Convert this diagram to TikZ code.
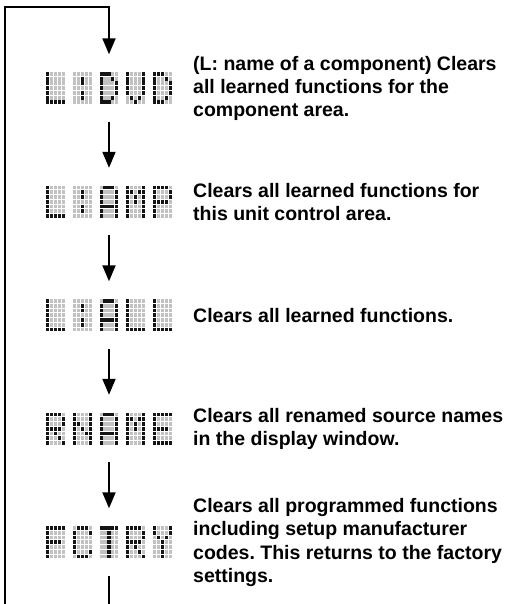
\documentclass[tikz,border=0pt]{standalone}
\usepackage{fontspec}
\setmainfont{Liberation Sans}
\usetikzlibrary{arrows.meta}
\definecolor{dmon}{HTML}{141414}
\definecolor{dmoff}{HTML}{C2C2C2}
\newcommand{\dmchar}[3]{%
  \foreach \v [count=\k from 0] in #3 {%
    \pgfmathtruncatemacro{\cc}{mod(\k,5)}%
    \pgfmathtruncatemacro{\rr}{div(\k,5)}%
    \ifnum\v=1 \def\dmcol{dmon}\else\def\dmcol{dmoff}\fi
    \fill[\dmcol] ({#1+3.95*\cc},{#2+4.75*\rr}) rectangle ++(3.1,3.9);
  }%
}
\def\chL{1,0,0,0,0, 1,0,0,0,0, 1,0,0,0,0, 1,0,0,0,0, 1,0,0,0,0, 1,0,0,0,0, 1,1,1,1,1}
\def\chCol{0,0,0,0,0, 0,0,1,0,0, 0,0,1,0,0, 0,0,0,0,0, 0,0,1,0,0, 0,0,1,0,0, 0,0,0,0,0}
\def\chD{1,1,1,0,0, 1,0,0,1,0, 1,0,0,0,1, 1,0,0,0,1, 1,0,0,0,1, 1,0,0,1,0, 1,1,1,0,0}
\def\chV{1,0,0,0,1, 1,0,0,0,1, 1,0,0,0,1, 1,0,0,0,1, 1,0,0,0,1, 0,1,0,1,0, 0,0,1,0,0}
\def\chA{0,1,1,1,0, 1,0,0,0,1, 1,0,0,0,1, 1,0,0,0,1, 1,1,1,1,1, 1,0,0,0,1, 1,0,0,0,1}
\def\chM{1,0,0,0,1, 1,1,0,1,1, 1,0,1,0,1, 1,0,1,0,1, 1,0,0,0,1, 1,0,0,0,1, 1,0,0,0,1}
\def\chP{1,1,1,1,0, 1,0,0,0,1, 1,0,0,0,1, 1,1,1,1,0, 1,0,0,0,0, 1,0,0,0,0, 1,0,0,0,0}
\def\chR{1,1,1,1,0, 1,0,0,0,1, 1,0,0,0,1, 1,1,1,1,0, 1,0,1,0,0, 1,0,0,1,0, 1,0,0,0,1}
\def\chN{1,0,0,0,1, 1,0,0,0,1, 1,1,0,0,1, 1,0,1,0,1, 1,0,0,1,1, 1,0,0,0,1, 1,0,0,0,1}
\def\chE{1,1,1,1,1, 1,0,0,0,0, 1,0,0,0,0, 1,1,1,1,0, 1,0,0,0,0, 1,0,0,0,0, 1,1,1,1,1}
\def\chF{1,1,1,1,1, 1,0,0,0,0, 1,0,0,0,0, 1,1,1,1,0, 1,0,0,0,0, 1,0,0,0,0, 1,0,0,0,0}
\def\chC{0,1,1,1,0, 1,0,0,0,1, 1,0,0,0,0, 1,0,0,0,0, 1,0,0,0,0, 1,0,0,0,1, 0,1,1,1,0}
\def\chT{1,1,1,1,1, 0,0,1,0,0, 0,0,1,0,0, 0,0,1,0,0, 0,0,1,0,0, 0,0,1,0,0, 0,0,1,0,0}
\def\chY{1,0,0,0,1, 1,0,0,0,1, 0,1,0,1,0, 0,0,1,0,0, 0,0,1,0,0, 0,0,1,0,0, 0,0,1,0,0}
% draw a 5-character display with top edge at #1
\newcommand{\dmword}[6]{%
  \dmchar{46}{#1}{#2}\dmchar{72.75}{#1}{#3}\dmchar{99.5}{#1}{#4}%
  \dmchar{126.25}{#1}{#5}\dmchar{153}{#1}{#6}%
}
\begin{document}
\frenchspacing
\begin{tikzpicture}[x=1pt,y=-1pt,
  flow/.style={line width=2pt,line join=miter,draw=black},
  flowarrow/.style={flow,-{Triangle[width=13pt,length=16pt]}},
  dispbox/.style={minimum width=126pt,minimum height=32pt,inner sep=0pt,draw=none},
  desc/.style={anchor=west,align=left,inner sep=0pt,
    font=\fontsize{19.5}{23.3}\selectfont\bfseries}]
\useasboundingbox (0,0) rectangle (508,604);
% displays
\node[dispbox] (d1) at (109,88.5) {};
\node[dispbox] (d2) at (109,202) {};
\node[dispbox] (d3) at (109,315.5) {};
\node[dispbox] (d4) at (109,429) {};
\node[dispbox] (d5) at (109,542.5) {};
\dmword{72}{\chL}{\chCol}{\chD}{\chV}{\chD}
\dmword{185.5}{\chL}{\chCol}{\chA}{\chM}{\chP}
\dmword{299}{\chL}{\chCol}{\chA}{\chL}{\chL}
\dmword{412.5}{\chR}{\chN}{\chA}{\chM}{\chE}
\dmword{526}{\chF}{\chC}{\chT}{\chR}{\chY}
% descriptions
\node[desc] (t1) at (193,88.5) {(L: name of a component) Clears\\all learned functions for the\\component area.};
\node[desc] (t2) at (193,202) {Clears all learned functions for\\this unit control area.};
\node[desc] (t3) at (193,315.5) {Clears all learned functions.};
\node[desc] (t4) at (193,429) {Clears all renamed source names\\in the display window.};
\node[desc] (t5) at (193,542.5) {Clears all programmed functions\\including setup manufacturer\\codes. This returns to the factory\\settings.};
% connectors
\coordinate (loopbot) at (5,604);
\coordinate (looptop) at (5,7.5);
\coordinate (botend) at (109,604);
\draw[flowarrow] (loopbot) -- (looptop) -| ([yshift=18pt]d1.north);
\draw[flowarrow] ([yshift=-17pt]d1.south) -- ([yshift=18pt]d2.north);
\draw[flowarrow] ([yshift=-17pt]d2.south) -- ([yshift=18pt]d3.north);
\draw[flowarrow] ([yshift=-17pt]d3.south) -- ([yshift=18pt]d4.north);
\draw[flowarrow] ([yshift=-17pt]d4.south) -- ([yshift=18pt]d5.north);
\draw[flow] ([yshift=-17pt]d5.south) -- (botend);
\end{tikzpicture}
\end{document}
